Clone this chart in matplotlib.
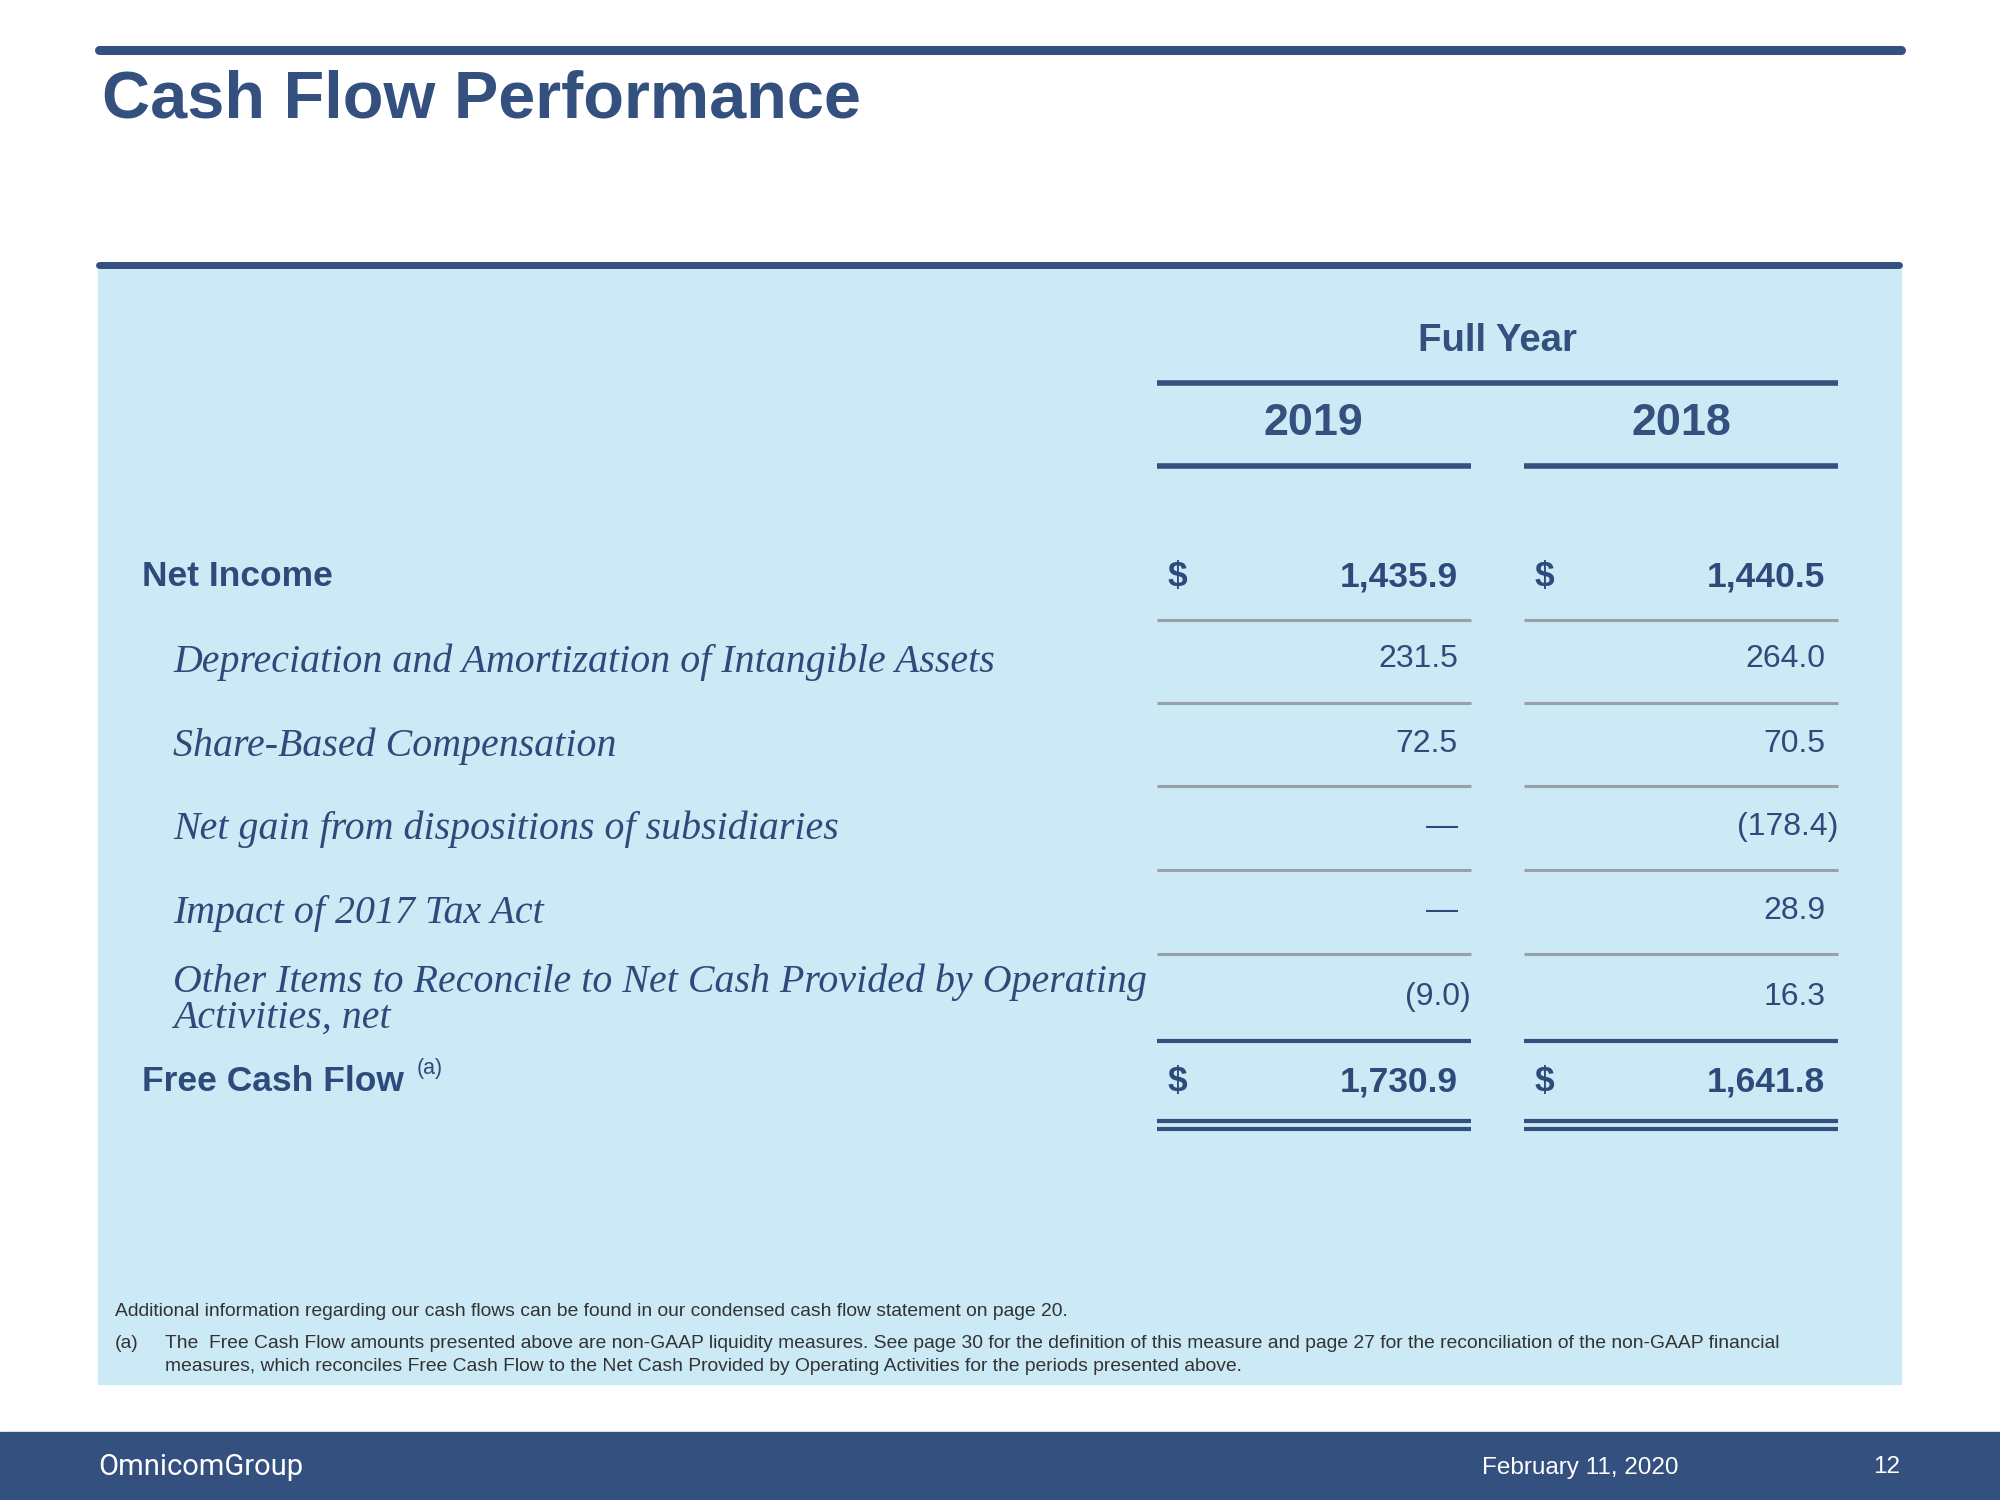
import matplotlib.pyplot as plt
from matplotlib.patches import Rectangle

# slide data
title = 'Cash Flow Performance'
period_label = 'Full Year'
years = ['2019', '2018']
row_labels = ['Net Income',
              'Depreciation and Amortization of Intangible Assets',
              'Share-Based Compensation',
              'Net gain from dispositions of subsidiaries',
              'Impact of 2017 Tax Act',
              'Other Items to Reconcile to Net Cash Provided by Operating\nActivities, net',
              'Free Cash Flow']
values_2019 = [1435.9, 231.5, 72.5, None, None, -9.0, 1730.9]
values_2018 = [1440.5, 264.0, 70.5, -178.4, 28.9, 16.3, 1641.8]
note_1 = 'Additional information regarding our cash flows can be found in our condensed cash flow statement on page 20.'
note_a = ('The  Free Cash Flow amounts presented above are non-GAAP liquidity measures. See page 30 for the definition of this measure and page 27 for the reconciliation of the non-GAAP financial\n'
          'measures, which reconciles Free Cash Flow to the Net Cash Provided by Operating Activities for the periods presented above.')
footer_date = 'February 11, 2020'
page_no = '12'

navy = '#33507f'
text_blue = '#2e4a7a'
light_bg = '#cbeaf6'
grey_line = '#9aa0a8'

def fmt(v):
    if v is None:
        return '\u2014'
    if v < 0:
        return '({:,.1f})'.format(-v)
    return '{:,.1f}'.format(v)

fig = plt.figure(figsize=(20, 15), dpi=100)
ax = fig.add_axes([0, 0, 1, 1])
ax.set_xlim(0, 1568)
ax.set_ylim(1176, 0)
ax.axis('off')

sans = 'Liberation Sans'
serif = 'Liberation Serif'

# header bars and title
ax.plot([78, 1490], [39, 39], color=navy, lw=6.5, solid_capstyle='round')
ax.text(80, 92, title, fontsize=48, fontweight='bold', color=navy, family=sans, va='baseline')
ax.plot([78, 1489], [208, 208], color=navy, lw=5, solid_capstyle='round')

# light blue panel
ax.add_patch(Rectangle((77, 211), 1413, 874, color=light_bg, zorder=0))

# column headers
col_left = [907, 1195]
col_right = [1153, 1441]
ax.text(1174, 267, period_label, fontsize=27.6, fontweight='bold', color=navy, family=sans, ha='center', va='center')
ax.plot([907, 1441], [300, 300], color=navy, lw=4, solid_capstyle='butt')
for i, yr in enumerate(years):
    cx = (col_left[i] + col_right[i]) / 2
    ax.text(cx, 332, yr, fontsize=32.3, fontweight='bold', color=navy, family=sans, ha='center', va='center')
    ax.plot([col_left[i], col_right[i]], [365, 365], color=navy, lw=4, solid_capstyle='butt')

# rows
row_y = [452, 517, 583, 648, 714, 782, 848]
rule_y = [486, 551, 616, 682, 748]
for i, label in enumerate(row_labels):
    y = row_y[i]
    bold = i in (0, len(row_labels) - 1)
    if bold:
        ax.text(111, y, label, fontsize=25.5, fontweight='bold', color=text_blue, family=sans, va='center')
    else:
        ax.text(136, y + 2, label, fontsize=28.7, style='italic', color=text_blue, family=serif,
                va='center', linespacing=0.95)
    for j, vals in enumerate([values_2019, values_2018]):
        v = vals[i]
        xr = col_right[j] - 10
        if v is not None and v < 0:
            xr = col_right[j]
        ax.text(xr, y, fmt(v), fontsize=25.5 if bold else 23, fontweight='bold' if bold else 'normal',
                color=text_blue, family=sans, ha='right', va='center')
        if bold:
            ax.text(col_left[j] + 8, y, '$', fontsize=25.5, fontweight='bold', color=text_blue,
                    family=sans, va='center')

# rules between rows
for y in rule_y:
    for j in range(2):
        ax.plot([col_left[j], col_right[j]], [y, y], color=grey_line, lw=2.2, solid_capstyle='butt')
for j in range(2):
    ax.plot([col_left[j], col_right[j]], [816, 816], color=navy, lw=3, solid_capstyle='butt')
    ax.plot([col_left[j], col_right[j]], [879, 879], color=navy, lw=3, solid_capstyle='butt')
    ax.plot([col_left[j], col_right[j]], [885.5, 885.5], color=navy, lw=3, solid_capstyle='butt')

# superscript on free cash flow
ax.text(327, 838, '(a)', fontsize=15.5, color=text_blue, family=sans, va='center')

# footnotes
ax.text(90, 1028, note_1, fontsize=13.9, color='#333333', family=sans, va='center')
ax.text(90, 1053, '(a)', fontsize=13.9, color='#333333', family=sans, va='center')
ax.text(129, 1062, note_a, fontsize=13.9, color='#333333', family=sans, va='center', linespacing=1.45)

# footer band
ax.add_patch(Rectangle((0, 1123), 1568, 53, color=navy, zorder=0))
ax.text(77, 1150, 'OmnicomGroup', fontsize=21, color='white', family='Roboto', va='center')
ax.text(1239, 1151, footer_date, fontsize=17.5, color='white', family=sans, ha='center', va='center')
ax.text(1490, 1150, page_no, fontsize=17.5, color='white', family=sans, ha='right', va='center')

fig.savefig('out.png', dpi=100, facecolor='white')
